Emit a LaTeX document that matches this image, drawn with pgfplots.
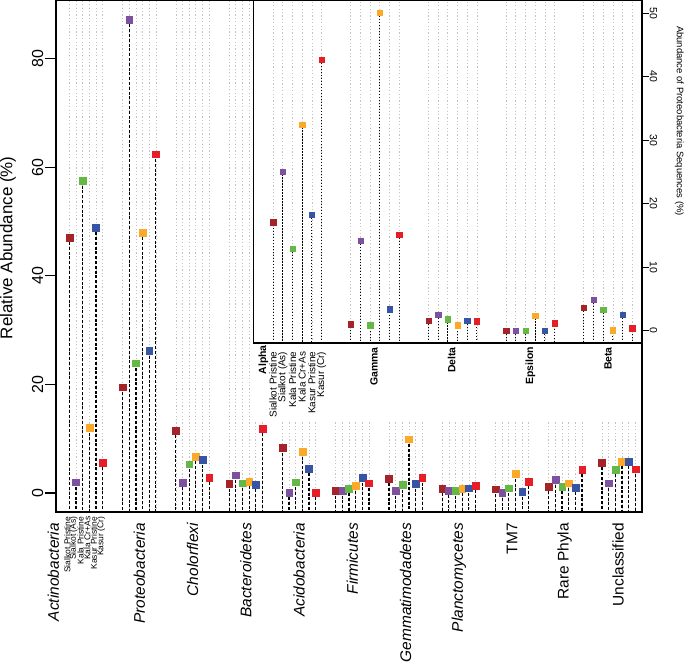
\documentclass[border=0pt]{standalone}
\usepackage{fontspec}
\setmainfont{Liberation Sans}
\usepackage{pgfplots}
\usepackage{pgfplotstable}
\pgfplotsset{compat=1.18}
\definecolor{cA}{RGB}{165,36,42}
\definecolor{cB}{RGB}{125,80,160}
\definecolor{cC}{RGB}{100,185,70}
\definecolor{cD}{RGB}{250,170,40}
\definecolor{cE}{RGB}{55,85,165}
\definecolor{cF}{RGB}{230,30,40}
\definecolor{gridgrey}{RGB}{195,195,195}

% main: relative abundance (%) per phylum, six samples
\pgfplotstableread{
base sp   sa   kp   kca  kup  kc
0    47.1 2.0  57.5 12.0 48.9 5.6
8    19.5 87.2 23.9 48.0 26.2 62.4
16   11.5 1.9  5.3  6.7  6.1  2.9
24   1.7  3.3  1.8  2.1  1.6  11.9
32   8.3  0.1  2.0  7.6  4.5  0.1
40   0.4  0.4  0.8  1.3  2.8  1.8
48   2.7  0.4  1.5  9.9  1.7  2.8
56   0.8  0.5  0.4  0.8  0.9  1.4
64   0.7  0.0  0.9  3.5  0.2  2.1
72   1.2  2.4  1.2  1.8  1.0  4.3
80   5.6  1.8  4.3  5.8  5.8  4.4
}\maindata

% inset: Proteobacteria classes (%)
\pgfplotstableread{
base sp   sa   kp   kca  kup  kc
0    17.1 25.1 12.9 32.5 18.3 42.7
8    1.05 14.2 0.9  50.1 3.4  15.1
16   1.6  2.5  1.8  0.9  1.6  1.5
24   0.0  0.0  0.0  2.4  0.0  1.2
32   3.6  4.9  3.3  0.1  2.5  0.4
}\insetdata

\pgfplotsset{
  mainstem/.style={forget plot, draw=none, mark=none,
    error bars/.cd, y dir=minus, y explicit, error mark=none,
    error bar style={draw=black, solid, line width=1.2bp, dash pattern=on 3bp off 1.8bp}},
  insetstem/.style={forget plot, draw=none, mark=none,
    error bars/.cd, y dir=minus, y explicit, error mark=none,
    error bar style={draw=black, solid, line width=1bp, dash pattern=on 1.3bp off 1.7bp}},
  mainmark/.style={only marks, mark=square*, mark size=3.4bp, color=#1, mark options={line width=0.3bp}},
  insetmark/.style={only marks, mark=square*, mark size=2.7bp, color=#1, mark options={line width=0.3bp}},
}

\begin{document}
\begin{tikzpicture}
\useasboundingbox (0,0) rectangle (684bp,665bp);
% ---------------- main axis ----------------
\begin{axis}[
  at={(56bp,153bp)}, anchor=south west,
  scale only axis, width=586bp, height=512bp,
  xmin=-2, xmax=86, ymin=-3.5, ymax=90.8,
  clip=false,
  axis line style={line width=1.1bp, black},
  xtick={0,1,2,3,4,5,8,9,10,11,12,13,16,17,18,19,20,21,24,25,26,27,28,29,32,33,34,35,36,37,40,41,42,43,44,45,48,49,50,51,52,53,56,57,58,59,60,61,64,65,66,67,68,69,72,73,74,75,76,77,80,81,82,83,84,85},
  xticklabels={},
  xtick style={draw=none},
  xmajorgrids,
  grid style={gridgrey, line width=0.7bp, dash pattern=on 1.2bp off 2.2bp},
  ytick={0,20,40,60,80},
  ytick pos=left,
  tick align=outside,
  major tick length=11bp,
  ytick style={line width=1.1bp, black},
  /pgf/number format/assume math mode=true,
  yticklabel style={rotate=90, anchor=south, inner sep=1.5bp, font=\fontsize{16}{16}\selectfont},
]
\addplot[mainstem] table[x expr=\thisrow{base}+0, y=sp,  y error minus expr=\thisrow{sp}+3.5]{\maindata};
\addplot[mainstem] table[x expr=\thisrow{base}+1, y=sa,  y error minus expr=\thisrow{sa}+3.5]{\maindata};
\addplot[mainstem] table[x expr=\thisrow{base}+2, y=kp,  y error minus expr=\thisrow{kp}+3.5]{\maindata};
\addplot[mainstem] table[x expr=\thisrow{base}+3, y=kca, y error minus expr=\thisrow{kca}+3.5]{\maindata};
\addplot[mainstem] table[x expr=\thisrow{base}+4, y=kup, y error minus expr=\thisrow{kup}+3.5]{\maindata};
\addplot[mainstem] table[x expr=\thisrow{base}+5, y=kc,  y error minus expr=\thisrow{kc}+3.5]{\maindata};
\addplot[mainmark=cA] table[x expr=\thisrow{base}+0, y=sp]{\maindata};
\addplot[mainmark=cB] table[x expr=\thisrow{base}+1, y=sa]{\maindata};
\addplot[mainmark=cC] table[x expr=\thisrow{base}+2, y=kp]{\maindata};
\addplot[mainmark=cD] table[x expr=\thisrow{base}+3, y=kca]{\maindata};
\addplot[mainmark=cE] table[x expr=\thisrow{base}+4, y=kup]{\maindata};
\addplot[mainmark=cF] table[x expr=\thisrow{base}+5, y=kc]{\maindata};
% y label
\node[rotate=90, anchor=north, inner sep=0pt, font=\fontsize{17}{17}\selectfont]
  at ([xshift=-56bp]rel axis cs:0,0.516) {Relative Abundance (\%)};
% group labels
\tikzset{grp/.style={rotate=90, anchor=east, inner sep=0pt, font=\fontsize{15.5}{16}\selectfont}}
\node[grp, font=\fontsize{15.5}{16}\selectfont\itshape] at ([yshift=-11bp]axis cs:-2.4,-3.5) {Actinobacteria};
\node[grp, font=\fontsize{15.5}{16}\selectfont\itshape] at ([yshift=-11bp]axis cs:10.5,-3.5) {Proteobacteria};
\node[grp, font=\fontsize{15.5}{16}\selectfont\itshape] at ([yshift=-11bp]axis cs:18.5,-3.5) {Cholorflexi};
\node[grp, font=\fontsize{15.5}{16}\selectfont\itshape] at ([yshift=-11bp]axis cs:26.5,-3.5) {Bacteroidetes};
\node[grp, font=\fontsize{15.5}{16}\selectfont\itshape] at ([yshift=-11bp]axis cs:34.5,-3.5) {Acidobacteria};
\node[grp, font=\fontsize{15.5}{16}\selectfont\itshape] at ([yshift=-11bp]axis cs:42.5,-3.5) {Firmicutes};
\node[grp, font=\fontsize{15.5}{16}\selectfont\itshape] at ([yshift=-11bp]axis cs:50.5,-3.5) {Gemmatimodadetes};
\node[grp, font=\fontsize{15.5}{16}\selectfont\itshape] at ([yshift=-11bp]axis cs:58.5,-3.5) {Planctomycetes};
\node[grp] at ([yshift=-11bp]axis cs:66.5,-3.5) {TM7};
\node[grp] at ([yshift=-11bp]axis cs:74.4,-3.5) {Rare Phyla};
\node[grp] at ([yshift=-11bp]axis cs:82.4,-3.5) {Unclassified};
% sample names
\tikzset{smp/.style={rotate=90, anchor=east, inner sep=0pt, font=\fontsize{8.5}{9}\selectfont}}
\node[smp] at ([yshift=-4.5bp]axis cs:-0.3,-3.5) {Sialkot Pristine};
\node[smp] at ([yshift=-4.5bp]axis cs:0.65,-3.5) {Sialkot (As)};
\node[smp] at ([yshift=-4.5bp]axis cs:1.7,-3.5) {Kala Pristine};
\node[smp] at ([yshift=-4.5bp]axis cs:2.7,-3.5) {Kala Cr+As};
\node[smp] at ([yshift=-4.5bp]axis cs:3.7,-3.5) {Kasur Pristine};
\node[smp] at ([yshift=-4.5bp]axis cs:4.8,-3.5) {Kasur (Cr)};
\end{axis}

% ---------------- inset axis ----------------
\begin{axis}[
  at={(642bp,665bp)}, anchor=north east,
  scale only axis, width=388.4bp, height=343bp,
  xmin=-2, xmax=38, ymin=-1.94, ymax=52.1,
  clip=false,
  axis background/.style={fill=white},
  axis line style={line width=1.1bp, black},
  xtick={0,1,2,3,4,5,8,9,10,11,12,13,16,17,18,19,20,21,24,25,26,27,28,29,32,33,34,35,36,37},
  xticklabels={},
  xtick style={draw=none},
  xmajorgrids,
  grid style={gridgrey, line width=0.7bp, dash pattern=on 1.2bp off 2.2bp},
  ytick={0,10,20,30,40,50},
  ytick pos=right,
  yticklabel pos=right,
  tick align=outside,
  major tick length=6.5bp,
  ytick style={line width=0.9bp, black},
  /pgf/number format/assume math mode=true,
  yticklabel style={rotate=-90, anchor=south, inner sep=1bp, font=\fontsize{10.5}{10.5}\selectfont},
]
\addplot[insetstem] table[x expr=\thisrow{base}+0, y=sp,  y error minus expr=\thisrow{sp}+1.94]{\insetdata};
\addplot[insetstem] table[x expr=\thisrow{base}+1, y=sa,  y error minus expr=\thisrow{sa}+1.94]{\insetdata};
\addplot[insetstem] table[x expr=\thisrow{base}+2, y=kp,  y error minus expr=\thisrow{kp}+1.94]{\insetdata};
\addplot[insetstem] table[x expr=\thisrow{base}+3, y=kca, y error minus expr=\thisrow{kca}+1.94]{\insetdata};
\addplot[insetstem] table[x expr=\thisrow{base}+4, y=kup, y error minus expr=\thisrow{kup}+1.94]{\insetdata};
\addplot[insetstem] table[x expr=\thisrow{base}+5, y=kc,  y error minus expr=\thisrow{kc}+1.94]{\insetdata};
\addplot[insetmark=cA] table[x expr=\thisrow{base}+0, y=sp]{\insetdata};
\addplot[insetmark=cB] table[x expr=\thisrow{base}+1, y=sa]{\insetdata};
\addplot[insetmark=cC] table[x expr=\thisrow{base}+2, y=kp]{\insetdata};
\addplot[insetmark=cD] table[x expr=\thisrow{base}+3, y=kca]{\insetdata};
\addplot[insetmark=cE] table[x expr=\thisrow{base}+4, y=kup]{\insetdata};
\addplot[insetmark=cF] table[x expr=\thisrow{base}+5, y=kc]{\insetdata};
% white panel under inset labels
\fill[white] ([yshift=-0.8bp]rel axis cs:0,0) rectangle ([xshift=-0.7bp, yshift=-78bp]rel axis cs:1,0);
% right label
\node[rotate=-90, anchor=north, inner sep=0pt, font=\fontsize{9.5}{9.5}\selectfont]
  at ([xshift=42bp]rel axis cs:1,0.647) {Abundance of Proteobacteria Sequences (\%)};
% class labels
\tikzset{cls/.style={rotate=90, anchor=east, inner sep=0pt, font=\fontsize{10.5}{11}\selectfont\bfseries}}
\node[cls] at ([yshift=-2bp]axis cs:-1,-1.94) {Alpha};
\node[cls] at ([yshift=-4bp]axis cs:10.4,-1.94) {Gamma};
\node[cls] at ([yshift=-4bp]axis cs:18.4,-1.94) {Delta};
\node[cls] at ([yshift=-4bp]axis cs:26.5,-1.94) {Epsilon};
\node[cls] at ([yshift=-4bp]axis cs:34.5,-1.94) {Beta};
\tikzset{ismp/.style={rotate=90, anchor=east, inner sep=0pt, font=\fontsize{10}{10}\selectfont}}
\node[ismp] at ([yshift=-8.5bp]axis cs:0,-1.94) {Sialkot Pristine};
\node[ismp] at ([yshift=-8.5bp]axis cs:1,-1.94) {Sialkot (As)};
\node[ismp] at ([yshift=-8.5bp]axis cs:2,-1.94) {Kala Pristine};
\node[ismp] at ([yshift=-8.5bp]axis cs:3,-1.94) {Kala Cr+As};
\node[ismp] at ([yshift=-8.5bp]axis cs:4,-1.94) {Kasur Pristine};
\node[ismp] at ([yshift=-8.5bp]axis cs:5,-1.94) {Kasur (Cr)};
\end{axis}
\end{tikzpicture}
\end{document}
